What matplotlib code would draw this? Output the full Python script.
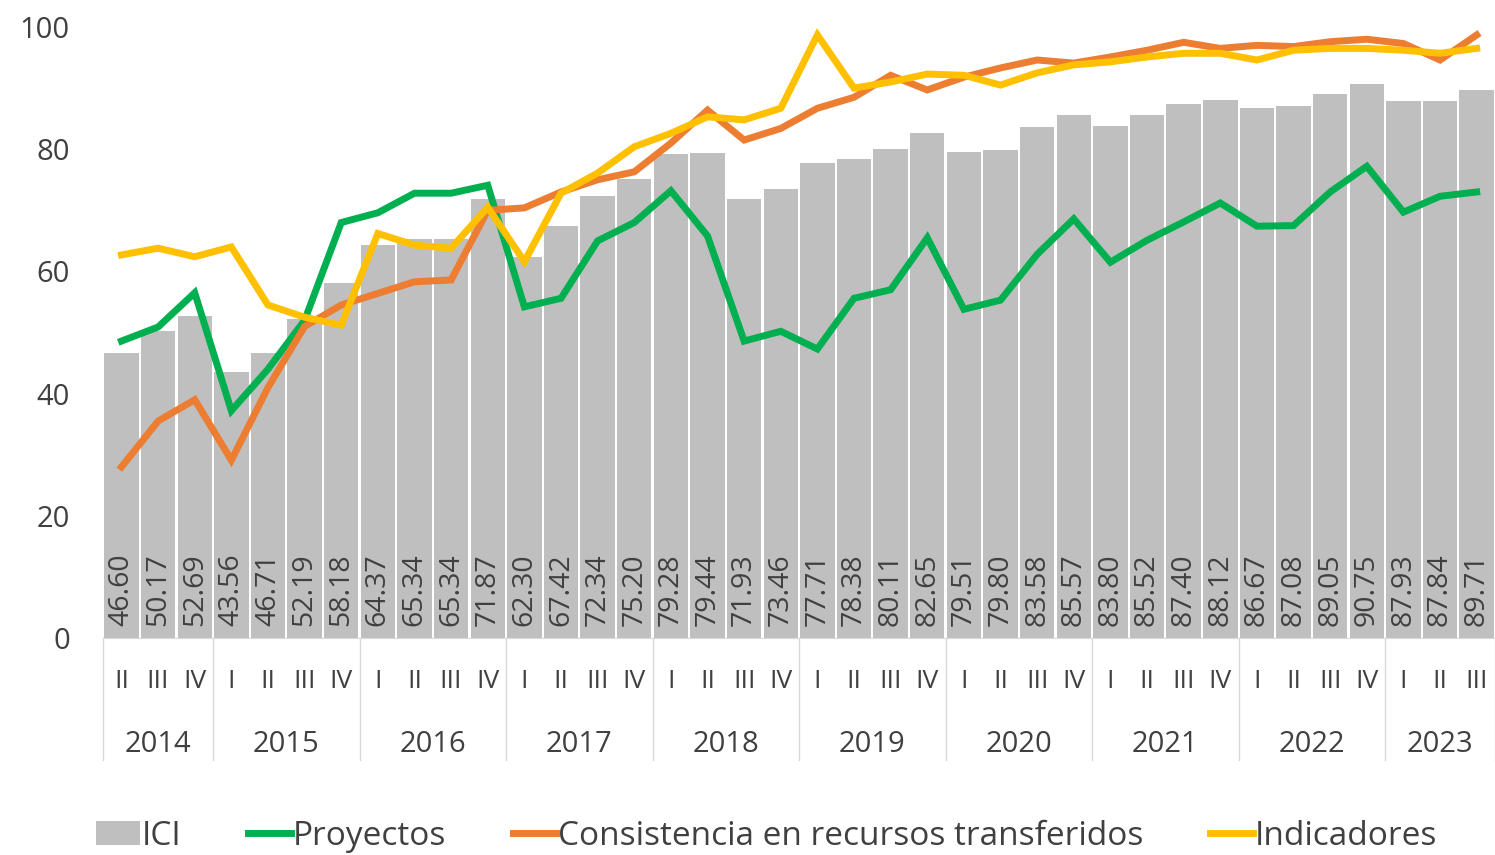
#!/usr/bin/env python3

import numpy as np
import matplotlib
matplotlib.use("Agg")
import matplotlib.pyplot as plt
from matplotlib.lines import Line2D
from matplotlib.patches import Patch
from matplotlib import transforms

plt.rcParams['font.family'] = ['Open Sans', 'DejaVu Sans']

# data
years = ['2014', '2015', '2016', '2017', '2018', '2019', '2020', '2021', '2022', '2023']
quarters_per_year = [3, 4, 4, 4, 4, 4, 4, 4, 4, 3]
quarter_labels = (['II', 'III', 'IV'] + ['I', 'II', 'III', 'IV'] * 8 + ['I', 'II', 'III'])

ici = [46.60, 50.17, 52.69, 43.56, 46.71, 52.19, 58.18, 64.37, 65.34, 65.34,
       71.87, 62.30, 67.42, 72.34, 75.20, 79.28, 79.44, 71.93, 73.46, 77.71,
       78.38, 80.11, 82.65, 79.51, 79.80, 83.58, 85.57, 83.80, 85.52, 87.40,
       88.12, 86.67, 87.08, 89.05, 90.75, 87.93, 87.84, 89.71]

proyectos = [48.6, 50.9, 56.5, 37.2, 44.0, 52.0, 68.0, 69.6, 72.8, 72.8,
             74.1, 54.2, 55.6, 65.0, 68.0, 73.2, 65.8, 48.6, 50.2, 47.3,
             55.6, 57.0, 65.5, 53.8, 55.3, 62.8, 68.6, 61.5, 65.1, 68.1,
             71.2, 67.4, 67.5, 73.0, 77.2, 69.7, 72.3, 73.0]

consistencia = [28.0, 35.5, 39.0, 29.1, 41.0, 51.0, 54.5, 56.4, 58.3, 58.6,
                70.0, 70.4, 73.0, 75.0, 76.3, 81.0, 86.4, 81.5, 83.4, 86.7,
                88.5, 92.1, 89.7, 91.8, 93.3, 94.6, 94.1, 95.1, 96.2, 97.5,
                96.5, 97.0, 96.8, 97.6, 98.0, 97.3, 94.6, 98.7]

indicadores = [62.7, 63.8, 62.4, 64.0, 54.5, 52.5, 51.2, 66.2, 64.3, 63.8,
               70.5, 61.6, 72.8, 76.1, 80.4, 82.6, 85.3, 84.8, 86.7, 98.7,
               90.0, 91.0, 92.3, 92.1, 90.5, 92.5, 93.8, 94.3, 95.1, 95.7,
               95.7, 94.6, 96.2, 96.5, 96.5, 96.2, 95.7, 96.5]

GRAY = '#BFBFBF'
GREEN = '#00B050'
ORANGE = '#ED7D31'
YELLOW = '#FFC000'
TXT = '#404040'

fig = plt.figure(figsize=(14.95, 8.55), dpi=100)
ax = fig.add_axes([0.069, 0.2538, 0.931, 0.7146])

x = np.arange(len(ici))
ax.bar(x, ici, width=0.94, color=GRAY, zorder=1)
for xi, v in zip(x, ici):
    ax.text(xi, 2.0, f"{v:.2f}", rotation=90, ha='center', va='bottom',
            fontsize=20.5, color=TXT, zorder=2)

ax.plot(x, proyectos, color=GREEN, lw=5, zorder=3, solid_joinstyle='miter')
ax.plot(x, consistencia, color=ORANGE, lw=5, zorder=4, solid_joinstyle='miter')
ax.plot(x, indicadores, color=YELLOW, lw=5, zorder=5, solid_joinstyle='miter')

ax.set_xlim(-0.5, len(ici) - 0.5)
ax.set_ylim(0, 100)
ax.set_yticks(range(0, 101, 20))
ax.tick_params(axis='y', length=0, pad=24, labelsize=21, labelcolor=TXT)
ax.set_xticks([])
for s in ['top', 'right', 'left']:
    ax.spines[s].set_visible(False)
ax.spines['bottom'].set_color('#D9D9D9')

# two-level category axis
trans = transforms.blended_transform_factory(ax.transData, ax.transAxes)
for xi, q in zip(x, quarter_labels):
    ax.text(xi, -0.072, q, transform=trans, ha='center', va='center',
            fontsize=19, color=TXT, clip_on=False)

start = -0.5
ax.plot([start, start], [0, -0.2], transform=trans, color='#D9D9D9', lw=1, clip_on=False)
for yr, n in zip(years, quarters_per_year):
    end = start + n
    ax.text((start + end) / 2, -0.174, yr, transform=trans, ha='center', va='center',
            fontsize=21, color=TXT, clip_on=False)
    ax.plot([end, end], [0, -0.2], transform=trans, color='#D9D9D9', lw=1, clip_on=False)
    start = end

handles = [
    Patch(facecolor=GRAY, edgecolor='none'),
    Line2D([0], [0], color=GREEN, lw=5),
    Line2D([0], [0], color=ORANGE, lw=5),
    Line2D([0], [0], color=YELLOW, lw=5),
]
labels = ['ICI', 'Proyectos', 'Consistencia en recursos transferidos', 'Indicadores']
fig.legend(handles, labels, loc='center', bbox_to_anchor=(0.513, 0.022), ncol=4,
           frameon=False, fontsize=24, handlelength=1.3, handletextpad=0.05,
           columnspacing=2.0, labelcolor=TXT)

fig.savefig('out.png', dpi=100)
plt.close(fig)
